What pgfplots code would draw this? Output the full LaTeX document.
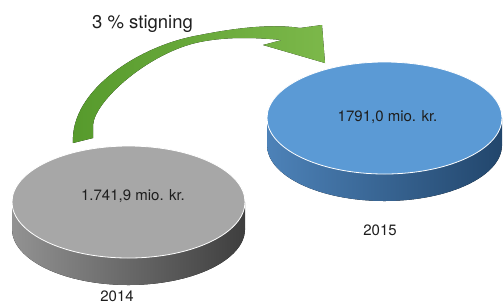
\documentclass[border=0pt]{standalone}
\usepackage{pgfplots}
\pgfplotsset{compat=1.18}
\usepackage{fontspec}
\setmainfont{TeX Gyre Heros}
\definecolor{txt}{HTML}{1E1E1E}
\definecolor{graytop}{HTML}{A7A7A7}
\definecolor{grayL}{HTML}{929292}
\definecolor{grayR}{HTML}{3E3E3E}
\definecolor{bluetop}{HTML}{5B9AD5}
\definecolor{blueL}{HTML}{4D82B8}
\definecolor{blueR}{HTML}{22466C}
\definecolor{arrowA}{HTML}{569A2C}
\definecolor{arrowB}{HTML}{7CB84A}
\begin{document}
\begin{tikzpicture}
\begin{axis}[
  x=1bp, y=1bp,
  xmin=0, xmax=503, ymin=0, ymax=304,
  y dir=reverse,
  hide axis, clip=false,
  /pgf/number format/assume math mode=true,
]
% 2014 disc (gray)
\fill[left color=grayL, right color=grayR] (axis cs:128.5,229) ellipse [x radius=116.5, y radius=56];
\fill[left color=grayL, right color=grayR] (axis cs:12,202) rectangle (axis cs:245,229);
\fill[graytop, draw=white, line width=0.8pt] (axis cs:128.5,202) ellipse [x radius=116.5, y radius=56];
% 2015 disc (blue)
\fill[left color=blueL, right color=blueR] (axis cs:384.5,145) ellipse [x radius=117.5, y radius=56];
\fill[left color=blueL, right color=blueR] (axis cs:267,118) rectangle (axis cs:502,145);
\fill[bluetop, draw=white, line width=0.8pt] (axis cs:384.5,118) ellipse [x radius=117.5, y radius=56];
% curved arrow
\fill[left color=arrowA, right color=arrowB]
  (axis cs:73,143) .. controls (axis cs:70,90) and (axis cs:140,45) .. (axis cs:200,35)
  .. controls (axis cs:240,27) and (axis cs:275,24) .. (axis cs:300,28)
  -- (axis cs:322,25) -- (axis cs:325,63) -- (axis cs:263,45) -- (axis cs:282,40)
  .. controls (axis cs:260,38) and (axis cs:230,36) .. (axis cs:200,42)
  .. controls (axis cs:150,52) and (axis cs:95,100) .. (axis cs:93,125)
  -- (axis cs:93,138) -- cycle;
% value labels
\addplot[draw=none, mark=none, point meta=explicit symbolic,
  nodes near coords, nodes near coords align={center},
  every node near coord/.append style={font=\fontsize{15bp}{17bp}\selectfont, text=txt, inner sep=0pt}]
  coordinates {(133,196) [1.741,9 mio. kr.] (387.5,117) [1791,0 mio. kr.]};
% year labels
\addplot[draw=none, mark=none, point meta=explicit symbolic,
  nodes near coords, nodes near coords align={center},
  every node near coord/.append style={font=\fontsize{15bp}{17bp}\selectfont, text=txt, inner sep=0pt}]
  coordinates {(117,296) [2014] (380,230) [2015]};
% title
\node[font=\fontsize{18.5bp}{21bp}\selectfont, text=txt, anchor=base west, inner sep=0pt] at (axis cs:92,28) {3 \% stigning};
\end{axis}
\pgfresetboundingbox
\useasboundingbox (current axis.south west) rectangle (current axis.north east);
\end{tikzpicture}
\end{document}
